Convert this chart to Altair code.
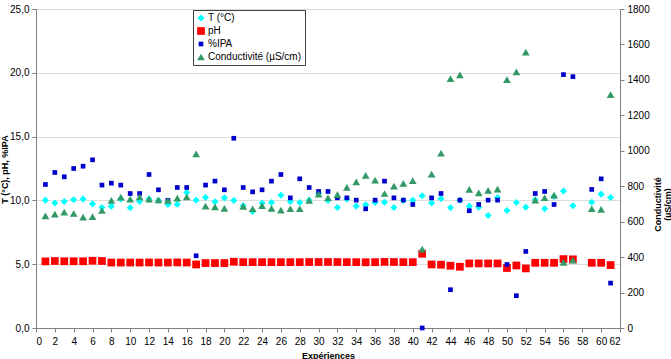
import altair as alt
import pandas as pd

# ---- data ----
experiences = list(range(1, 62))

temperature = [10.02, 9.79, 9.92, 10.05, 10.1, 9.73, 9.45, 9.55, 10.1, 9.42,
               9.92, 10.1, 10.0, 9.68, 9.7, 10.62, 10.02, 10.23, 9.9, 10.2,
               10.0, 9.58, 9.13, 9.79, 9.84, 10.41, 9.92, 9.84, 10.02, 10.54,
               10.0, 9.45, 10.1, 9.55, 9.66, 9.84, 9.86, 9.45, 10.0, 10.02,
               10.36, 9.79, 10.13, 9.42, 10.02, 9.55, 9.47, 8.82, 10.23, 9.21,
               9.84, 9.47, 10.05, 9.34, 10.3, 10.73, 9.58, None, 9.86, 10.49, 10.23]

ph = [5.22, 5.25, 5.23, 5.23, 5.23, 5.27, 5.25, 5.13, 5.13, 5.13,
      5.13, 5.14, 5.13, 5.13, 5.14, 5.13, 4.98, 5.09, 5.09, 5.09,
      5.19, 5.16, 5.16, 5.16, 5.16, 5.16, 5.16, 5.16, 5.17, 5.17,
      5.17, 5.17, 5.16, 5.16, 5.15, 5.16, 5.18, 5.17, 5.16, 5.16,
      5.82, 4.98, 4.96, 4.88, 4.80, 5.06, 5.06, 5.06, 5.06, 4.70,
      4.90, 4.67, 5.11, 5.11, 5.11, 5.40, 5.38, None, 5.11, 5.11, 4.93]

ipa = [11.25, 12.19, 11.85, 12.5, 12.68, 13.18, 11.2, 11.35, 11.2, 10.54,
       10.54, 12.03, 10.83, 10.0, 11.01, 11.01, 5.66, 11.2, 11.51, 10.83,
       14.87, 11.01, 10.67, 10.83, 11.51, 12.03, 10.2, 11.69, 11.01, 10.7,
       10.7, 10.2, 10.2, 10.02, 9.34, 10.02, 11.51, 10.2, 10.02, 9.68,
       0.0, 10.2, 10.54, 3.0, 10.02, 9.19, 9.68, 10.02, 10.02, 4.98,
       2.53, 6.0, 10.54, 10.7, 9.68, 19.86, 19.7, None, 10.86, 11.69, 3.52]

conductivite = [633, 643, 654, 646, 626, 629, 663, 720, 738, 727,
                740, 727, 723, 720, 733, 740, 983, 688, 684, 675,
                None, 686, 673, 690, 675, 665, 673, 673, 720, 755,
                735, 752, 793, 825, 861, 834, 759, 800, 816, 832,
                445, 868, 986, 1407, 1428, 782, 763, 776, 784, 1402,
                1445, 1557, 722, 735, 750, 370, 383, None, 673, 669, 1317]

series_names = ["T (°C)", "pH", "%IPA", "Conductivité (µS/cm)"]
series_colors = ["#00FFFF", "#FF0000", "#0000CC", "#339966"]
series_shapes = ["diamond", "square", "square", "triangle-up"]
series_sizes = [50, 60, 22, 60]

left_ticks = [0, 5, 10, 15, 20, 25]
right_ticks = list(range(0, 1801, 200))
x_ticks = list(range(0, 63, 2))

# ---- tables ----
rows = []
for name, vals in zip(series_names[:3], [temperature, ph, ipa]):
    for e, v in zip(experiences, vals):
        if v is not None:
            rows.append({"exp": e, "valeur": v, "serie": name})
left_df = pd.DataFrame(rows)

right_df = pd.DataFrame([
    {"exp": e, "valeur": v, "serie": series_names[3]}
    for e, v in zip(experiences, conductivite) if v is not None
])

FONT = "Liberation Sans"

color_enc = alt.Color("serie:N",
                      scale=alt.Scale(domain=series_names, range=series_colors),
                      legend=alt.Legend(title=None, orient="none", legendX=157, legendY=1,
                                        fillColor="white", strokeColor="#404040",
                                        padding=3, rowPadding=3, labelOffset=2,
                                        labelFont=FONT, labelFontSize=10, labelColor="black",
                                        symbolStrokeWidth=0))
shape_enc = alt.Shape("serie:N", scale=alt.Scale(domain=series_names, range=series_shapes))
size_enc = alt.Size("serie:N", scale=alt.Scale(type="ordinal", domain=series_names,
                                               range=series_sizes))

x_enc = alt.X("exp:Q",
              scale=alt.Scale(domain=[0, 62], nice=False),
              axis=alt.Axis(values=x_ticks, title="Expériences", grid=False,
                            labelFont=FONT, labelFontSize=10, labelColor="black",
                            labelPadding=4, tickSize=4, tickColor="#808080",
                            domainColor="#808080",
                            titleFont=FONT, titleFontSize=9, titleFontWeight="bold",
                            titleY=23, titleBaseline="top"))

left = alt.Chart(left_df).mark_point(filled=True, opacity=1).encode(
    x=x_enc,
    y=alt.Y("valeur:Q",
            scale=alt.Scale(domain=[0, 25], nice=False),
            axis=alt.Axis(values=left_ticks, title="T (°C), pH, %IPA",
                          labelExpr="replace(format(datum.value, '.1f'), '.', ',')",
                          labelFont=FONT, labelFontSize=10, labelColor="black",
                          labelPadding=3, tickSize=4, tickColor="#808080",
                          domainColor="#808080", grid=True, gridColor="#DDDDDD",
                          titleFont=FONT, titleFontSize=9, titleFontWeight="bold",
                          titleAngle=270, titleX=-32, titleY=160,
                          titleAlign="center", titleBaseline="middle")),
    color=color_enc, shape=shape_enc, size=size_enc,
)

right = alt.Chart(right_df).mark_point(filled=True, opacity=1).encode(
    x=x_enc,
    y=alt.Y("valeur:Q",
            scale=alt.Scale(domain=[0, 1800], nice=False),
            axis=alt.Axis(values=right_ticks, orient="right", format="d",
                          title=["Conductivité", "(µS/cm)"],
                          labelFont=FONT, labelFontSize=10, labelColor="black",
                          labelPadding=3, tickSize=4, tickColor="#808080",
                          domainColor="#808080", grid=False,
                          titleFont=FONT, titleFontSize=9, titleFontWeight="bold",
                          titleAngle=270, titleX=37, titleY=195,
                          titleAlign="center", titleBaseline="middle",
                          titleLineHeight=10)),
    color=color_enc, shape=shape_enc, size=size_enc,
)

chart = alt.layer(left, right).resolve_scale(y="independent").properties(
    width=584, height=319,
    autosize=alt.AutoSizeParams(type="none"),
    padding={"left": 36, "top": 9, "right": 51, "bottom": 31},
    background="white",
).configure_view(stroke="#909090")

chart.save("out.html", embed_options={"renderer": "svg", "actions": False})
